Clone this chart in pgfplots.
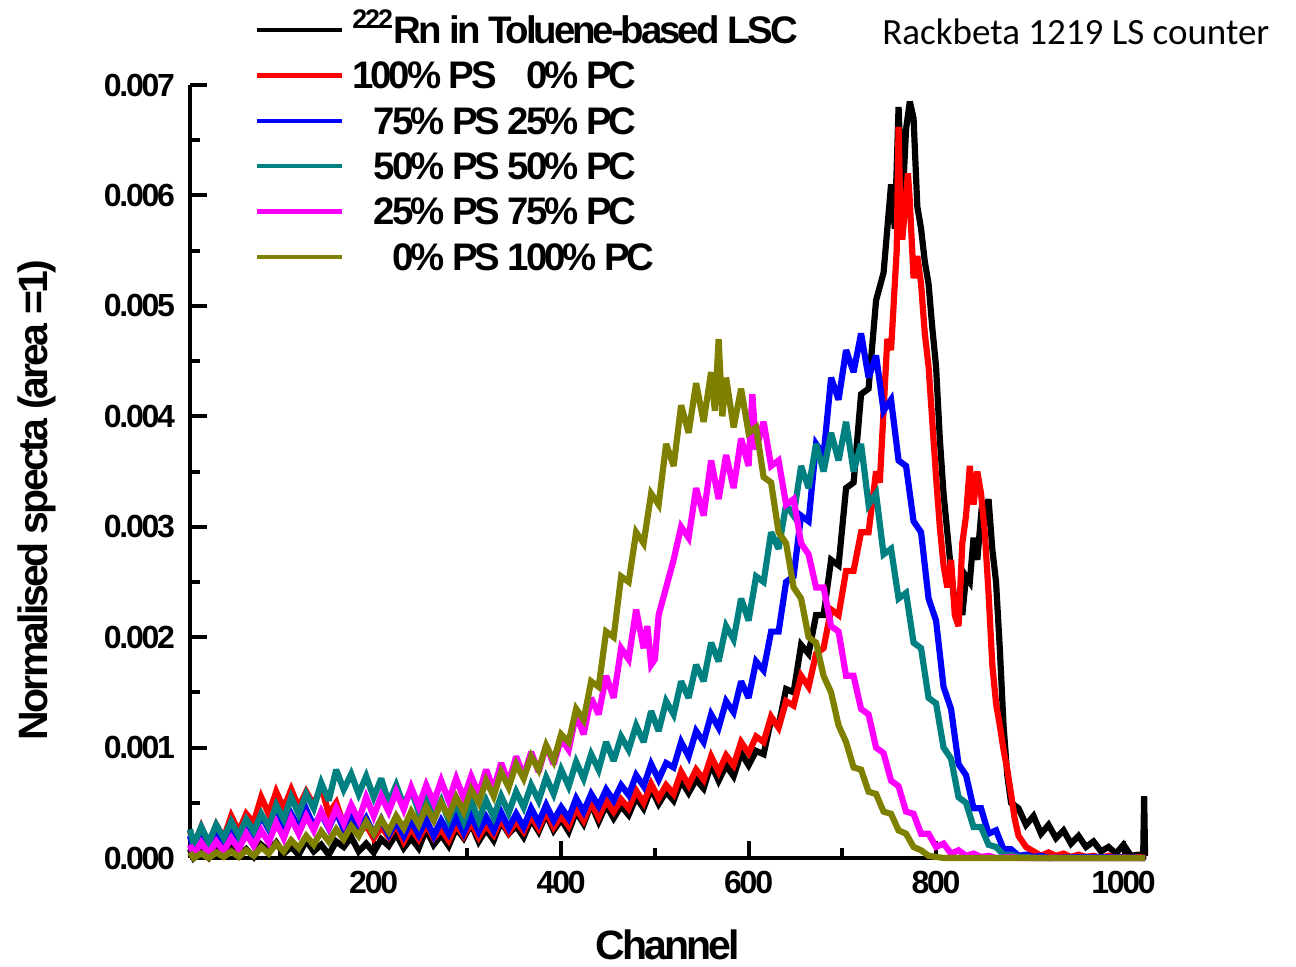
\documentclass[border=0pt]{standalone}
\usepackage{fontspec}
\setmainfont{Liberation Sans}
\newfontfamily\tightA[LetterSpace=-7]{Liberation Sans}
\newfontfamily\tightB[LetterSpace=-8]{Liberation Sans}
\newfontfamily\calib{Carlito}
\usepackage{pgfplots}
\pgfplotsset{compat=1.18}
\definecolor{cteal}{RGB}{0,128,128}
\definecolor{colive}{RGB}{128,128,0}
\definecolor{cmag}{RGB}{255,0,255}
\definecolor{cred}{RGB}{255,0,0}
\definecolor{cblue}{RGB}{0,0,255}
\tikzset{spec/.style={line width=3.1bp, line join=miter, miter limit=3}}
\begin{document}
\begin{tikzpicture}
\useasboundingbox (-95bp,-54.5bp) rectangle (553bp,429bp);
\begin{axis}[
  at={(0,0)}, anchor=south west,
  scale only axis, width=478bp, height=386.5bp,
  xmin=4, xmax=1024, ymin=0, ymax=7,
  axis lines*=left,
  axis line style={line width=2bp, black, -},
  clip=false,
  tick align=inside,
  major tick length=8.5bp, minor tick length=5bp,
  every tick/.style={line width=2bp, black},
  xtick={200,400,600,800,1000}, xticklabels={200,400,600,800,1000},
  minor xtick={100,300,500,700,900},
  ytick={0,1,2,3,4,5,6,7},
  yticklabels={0.000,0.001,0.002,0.003,0.004,0.005,0.006,0.007},
  minor ytick={0.5,1.5,2.5,3.5,4.5,5.5,6.5},
  tick label style={font={\fontsize{16bp}{18bp}\tightA\bfseries}},
  xticklabel style={anchor=north, yshift=-3bp},
  yticklabel style={anchor=east, xshift=-4bp},
  xlabel={Channel}, ylabel={Normalised specta (area =1)},
  label style={font={\fontsize{20.5bp}{22bp}\tightA\bfseries}},
  xlabel style={at={(axis description cs:0.5,-0.112)}, anchor=center},
  ylabel style={at={(axis description cs:-0.16,0.463)}, anchor=center},
  legend image code/.code={\draw[#1, line width=2.2bp] (0bp,0bp) -- (42.5bp,0bp);},
  legend style={at={(axis description cs:0.068,1.1005)}, anchor=north west,
    draw=none, fill=none, inner sep=0pt, outer sep=0pt, row sep=0pt,
    column sep=4bp,
    font={\fontsize{19.2bp}{20bp}\tightB\bfseries},
    cells={anchor=west},
    nodes={text height=18bp, text depth=4.7bp, inner sep=0pt}},
  legend cell align=left,
]
% black
\addplot[black, spec] coordinates {
(4,0.08)(8,0.00)(16,0.06)(24,0.00)(32,0.09)(40,0.04)(48,0.12)(56,0.02)(64,0.08)(72,0.01)
(80,0.12)(88,0.06)(96,0.14)(104,0.04)(112,0.10)(120,0.03)(128,0.16)(136,0.06)(144,0.12)(152,0.03)
(160,0.15)(168,0.10)(176,0.19)(184,0.06)(192,0.13)(200,0.05)(208,0.17)(216,0.11)(224,0.22)(232,0.09)
(240,0.18)(248,0.09)(256,0.26)(264,0.12)(272,0.21)(280,0.11)(288,0.27)(296,0.18)(304,0.31)(312,0.15)
(320,0.26)(328,0.16)(336,0.33)(344,0.22)(352,0.29)(360,0.19)(368,0.35)(376,0.24)(384,0.40)(392,0.25)
(400,0.35)(408,0.24)(416,0.42)(424,0.31)(432,0.49)(440,0.33)(448,0.48)(456,0.36)(464,0.47)(472,0.39)
(480,0.55)(488,0.45)(496,0.63)(504,0.49)(512,0.60)(520,0.52)(528,0.70)(536,0.59)(544,0.71)(552,0.63)
(560,0.85)(568,0.70)(576,0.84)(584,0.74)(592,0.95)(600,0.84)(608,0.97)(616,0.94)(624,1.25)(632,1.20)
(640,1.53)(648,1.50)(656,1.93)(664,1.85)(672,2.20)(680,2.20)(688,2.70)(696,2.65)(704,3.35)(712,3.40)
(720,4.20)(728,4.25)(736,5.05)(744,5.30)(752,6.10)(756,5.70)(760,6.80)(764,5.90)(768,6.60)(772,6.85)
(776,6.70)(780,5.90)(784,5.70)(788,5.40)(792,5.20)(796,4.80)(800,4.45)(804,3.80)(808,3.30)(812,2.95)
(816,2.60)(820,2.30)(824,2.40)(828,2.20)(832,2.55)(836,2.50)(840,2.90)(844,2.70)(848,3.10)(852,3.05)
(856,3.25)(860,2.80)(864,2.50)(868,1.90)(872,1.20)(876,0.75)(880,0.50)(888,0.45)(896,0.30)(904,0.38)
(912,0.22)(920,0.30)(928,0.18)(936,0.25)(944,0.13)(952,0.20)(960,0.10)(968,0.15)(976,0.06)(984,0.10)
(992,0.04)(1000,0.12)(1008,0.02)(1016,0.03)(1021,0.02)(1022,0.56)(1023,0.02)};
\addlegendentry{\textsuperscript{222}Rn in Toluene-based LSC}
% red
\addplot[cred, spec] coordinates {
(4,0.25)(8,0.10)(16,0.28)(24,0.12)(32,0.30)(40,0.18)(48,0.38)(56,0.24)(64,0.40)(72,0.32)
(80,0.55)(88,0.40)(96,0.60)(104,0.45)(112,0.62)(120,0.46)(128,0.60)(136,0.48)(144,0.65)(152,0.40)
(160,0.50)(168,0.30)(176,0.38)(184,0.22)(192,0.30)(200,0.18)(208,0.28)(216,0.19)(224,0.30)(232,0.15)
(240,0.27)(248,0.17)(256,0.30)(264,0.18)(272,0.26)(280,0.16)(288,0.30)(296,0.20)(304,0.32)(312,0.19)
(320,0.30)(328,0.21)(336,0.35)(344,0.23)(352,0.33)(360,0.24)(368,0.38)(376,0.27)(384,0.42)(392,0.28)
(400,0.38)(408,0.29)(416,0.45)(424,0.34)(432,0.50)(440,0.37)(448,0.52)(456,0.42)(464,0.53)(472,0.45)
(480,0.61)(488,0.50)(496,0.67)(504,0.54)(512,0.66)(520,0.58)(528,0.78)(536,0.66)(544,0.80)(552,0.71)
(560,0.92)(568,0.78)(576,0.93)(584,0.84)(592,1.05)(600,0.95)(608,1.10)(616,1.05)(624,1.28)(632,1.18)
(640,1.42)(648,1.38)(656,1.65)(664,1.55)(672,1.85)(680,1.90)(688,2.25)(696,2.20)(704,2.60)(712,2.60)
(720,2.95)(728,2.95)(736,3.50)(740,3.40)(744,4.05)(748,4.70)(752,4.60)(756,5.20)(758,5.50)(760,6.62)
(762,5.80)(764,5.60)(768,6.00)(770,6.20)(772,5.95)(776,5.25)(780,5.45)(784,5.20)(788,4.75)(792,4.45)
(796,3.95)(800,3.45)(804,3.00)(808,2.65)(812,2.45)(816,2.70)(820,2.20)(824,2.10)(828,2.85)(832,3.10)
(836,3.55)(840,3.20)(844,3.50)(848,3.30)(852,2.95)(856,2.40)(860,1.75)(864,1.40)(868,1.20)(872,0.98)
(876,0.80)(880,0.58)(884,0.35)(888,0.20)(896,0.10)(904,0.06)(912,0.02)(920,0.05)(928,0.02)(936,0.04)
(944,0.01)(952,0.03)(960,0.01)(968,0.02)(976,0.00)(984,0.02)(992,0.00)(1000,0.01)(1008,0.00)(1016,0.01)(1023,0.00)};
\addlegendentry{100\% PS \hphantom{2}0\% PC}
% blue
\addplot[cblue, spec] coordinates {
(4,0.20)(8,0.08)(16,0.22)(24,0.10)(32,0.24)(40,0.14)(48,0.27)(56,0.18)(64,0.33)(72,0.22)
(80,0.38)(88,0.26)(96,0.42)(104,0.27)(112,0.40)(120,0.28)(128,0.44)(136,0.29)(144,0.40)(152,0.27)
(160,0.42)(168,0.26)(176,0.38)(184,0.24)(192,0.36)(200,0.22)(208,0.35)(216,0.21)(224,0.33)(232,0.20)
(240,0.34)(248,0.21)(256,0.35)(264,0.20)(272,0.34)(280,0.22)(288,0.37)(296,0.23)(304,0.38)(312,0.24)
(320,0.37)(328,0.25)(336,0.41)(344,0.27)(352,0.40)(360,0.28)(368,0.45)(376,0.32)(384,0.48)(392,0.34)
(400,0.46)(408,0.36)(416,0.54)(424,0.42)(432,0.58)(440,0.47)(448,0.62)(456,0.52)(464,0.66)(472,0.57)
(480,0.75)(488,0.65)(496,0.85)(504,0.71)(512,0.86)(520,0.82)(528,1.05)(536,0.92)(544,1.15)(552,1.05)
(560,1.30)(568,1.18)(576,1.42)(584,1.32)(592,1.60)(600,1.45)(608,1.78)(616,1.70)(624,2.05)(632,2.05)
(640,2.50)(648,2.55)(656,3.10)(664,3.05)(672,3.75)(680,3.65)(688,4.35)(696,4.15)(704,4.60)(712,4.40)
(720,4.75)(728,4.35)(736,4.55)(744,4.05)(752,4.15)(760,3.60)(768,3.55)(776,3.05)(784,2.95)(792,2.35)
(800,2.15)(808,1.55)(816,1.35)(824,0.85)(832,0.75)(840,0.45)(848,0.45)(856,0.22)(864,0.25)(872,0.08)
(880,0.08)(888,0.02)(896,0.03)(904,0.01)(912,0.02)(920,0.00)(960,0.01)(1023,0.00)};
\addlegendentry{\hphantom{1}75\% PS 25\% PC}
% teal
\addplot[cteal, spec] coordinates {
(4,0.26)(8,0.12)(16,0.28)(24,0.14)(32,0.30)(40,0.18)(48,0.33)(56,0.20)(64,0.35)(72,0.24)
(80,0.40)(88,0.28)(96,0.48)(104,0.35)(112,0.55)(120,0.40)(128,0.58)(136,0.45)(144,0.68)(152,0.52)
(160,0.80)(168,0.62)(176,0.76)(184,0.58)(192,0.74)(200,0.55)(208,0.72)(216,0.50)(224,0.66)(232,0.48)
(240,0.62)(248,0.42)(256,0.56)(264,0.38)(272,0.52)(280,0.34)(288,0.50)(296,0.33)(304,0.52)(312,0.34)
(320,0.52)(328,0.37)(336,0.56)(344,0.41)(352,0.60)(360,0.46)(368,0.66)(376,0.52)(384,0.73)(392,0.58)
(400,0.80)(408,0.65)(416,0.87)(424,0.72)(432,0.94)(440,0.80)(448,1.05)(456,0.88)(464,1.10)(472,0.98)
(480,1.20)(488,1.05)(496,1.33)(504,1.15)(512,1.42)(520,1.30)(528,1.60)(536,1.45)(544,1.75)(552,1.60)
(560,1.95)(568,1.78)(576,2.10)(584,1.98)(592,2.35)(600,2.15)(608,2.55)(616,2.50)(624,2.95)(632,2.80)
(640,3.20)(648,3.10)(656,3.55)(664,3.35)(672,3.75)(680,3.50)(688,3.85)(696,3.60)(704,3.95)(712,3.50)
(720,3.75)(728,3.20)(736,3.30)(744,2.75)(752,2.80)(760,2.35)(768,2.40)(776,1.95)(784,1.90)(792,1.45)
(800,1.40)(808,1.00)(816,0.90)(824,0.55)(832,0.50)(840,0.28)(848,0.28)(856,0.12)(864,0.10)(872,0.03)
(880,0.03)(888,0.01)(896,0.01)(904,0.00)(1023,0.00)};
\addlegendentry{\hphantom{1}50\% PS 50\% PC}
% magenta
\addplot[cmag, spec] coordinates {
(4,0.12)(8,0.03)(16,0.14)(24,0.04)(32,0.15)(40,0.06)(48,0.18)(56,0.08)(64,0.22)(72,0.11)
(80,0.25)(88,0.14)(96,0.32)(104,0.18)(112,0.36)(120,0.22)(128,0.38)(136,0.25)(144,0.42)(152,0.28)
(160,0.45)(168,0.31)(176,0.48)(184,0.34)(192,0.55)(200,0.38)(208,0.56)(216,0.42)(224,0.60)(232,0.44)
(240,0.64)(248,0.47)(256,0.66)(264,0.50)(272,0.70)(280,0.52)(288,0.72)(296,0.54)(304,0.74)(312,0.58)
(320,0.80)(328,0.62)(336,0.86)(344,0.68)(352,0.92)(360,0.74)(368,0.96)(376,0.78)(384,1.02)(392,0.85)
(400,1.08)(408,0.98)(416,1.30)(424,1.12)(432,1.45)(440,1.30)(448,1.65)(456,1.45)(464,1.90)(472,1.80)
(480,2.25)(488,1.90)(492,2.10)(496,1.75)(500,1.80)(504,2.20)(512,2.45)(520,2.70)(528,3.00)(536,2.90)
(544,3.35)(552,3.10)(560,3.60)(568,3.25)(576,3.65)(584,3.35)(592,3.80)(600,3.55)(604,4.20)(608,3.70)
(616,3.95)(624,3.55)(632,3.60)(640,3.20)(648,3.25)(656,2.85)(664,2.75)(672,2.45)(680,2.45)(688,2.10)
(696,2.05)(704,1.65)(712,1.65)(720,1.35)(728,1.30)(736,1.00)(744,0.95)(752,0.70)(760,0.65)(768,0.42)
(776,0.40)(784,0.22)(792,0.22)(800,0.10)(808,0.13)(816,0.04)(824,0.07)(832,0.02)(840,0.04)(848,0.01)
(856,0.02)(864,0.00)(880,0.01)(888,0.00)(1023,0.00)};
\addlegendentry{\hphantom{1}25\% PS 75\% PC}
% olive
\addplot[colive, spec] coordinates {
(4,0.05)(8,0.00)(16,0.04)(24,0.00)(32,0.05)(40,0.01)(48,0.06)(56,0.01)(64,0.07)(72,0.02)
(80,0.10)(88,0.04)(96,0.13)(104,0.06)(112,0.16)(120,0.09)(128,0.20)(136,0.12)(144,0.24)(152,0.15)
(160,0.26)(168,0.17)(176,0.29)(184,0.20)(192,0.33)(200,0.22)(208,0.35)(216,0.24)(224,0.38)(232,0.27)
(240,0.42)(248,0.30)(256,0.46)(264,0.34)(272,0.50)(280,0.38)(288,0.55)(296,0.42)(304,0.62)(312,0.50)
(320,0.70)(328,0.56)(336,0.78)(344,0.64)(352,0.85)(360,0.72)(368,0.92)(376,0.80)(384,1.02)(392,0.88)
(400,1.12)(408,1.05)(416,1.35)(424,1.25)(432,1.60)(440,1.55)(448,2.05)(456,2.00)(464,2.55)(472,2.50)
(480,2.95)(488,2.85)(496,3.30)(504,3.20)(512,3.75)(520,3.55)(528,4.10)(536,3.85)(544,4.30)(552,3.95)
(560,4.40)(564,4.05)(568,4.70)(572,4.00)(576,4.35)(584,3.90)(592,4.25)(600,3.85)(608,3.90)(616,3.45)
(624,3.40)(632,2.95)(640,2.85)(648,2.45)(656,2.35)(664,2.00)(672,1.95)(680,1.65)(688,1.50)(696,1.20)
(704,1.05)(712,0.82)(720,0.80)(728,0.60)(736,0.58)(744,0.42)(752,0.40)(760,0.25)(768,0.22)(776,0.10)
(784,0.07)(792,0.02)(800,0.01)(808,0.00)(1023,0.00)};
\addlegendentry{\hphantom{10}0\% PS 100\% PC}
\end{axis}
\node[anchor=base west, inner sep=0pt, font={\calib\fontsize{18.5bp}{20bp}\selectfont}] at (346bp,406.5bp) {Rackbeta 1219 LS counter};
\end{tikzpicture}
\end{document}
